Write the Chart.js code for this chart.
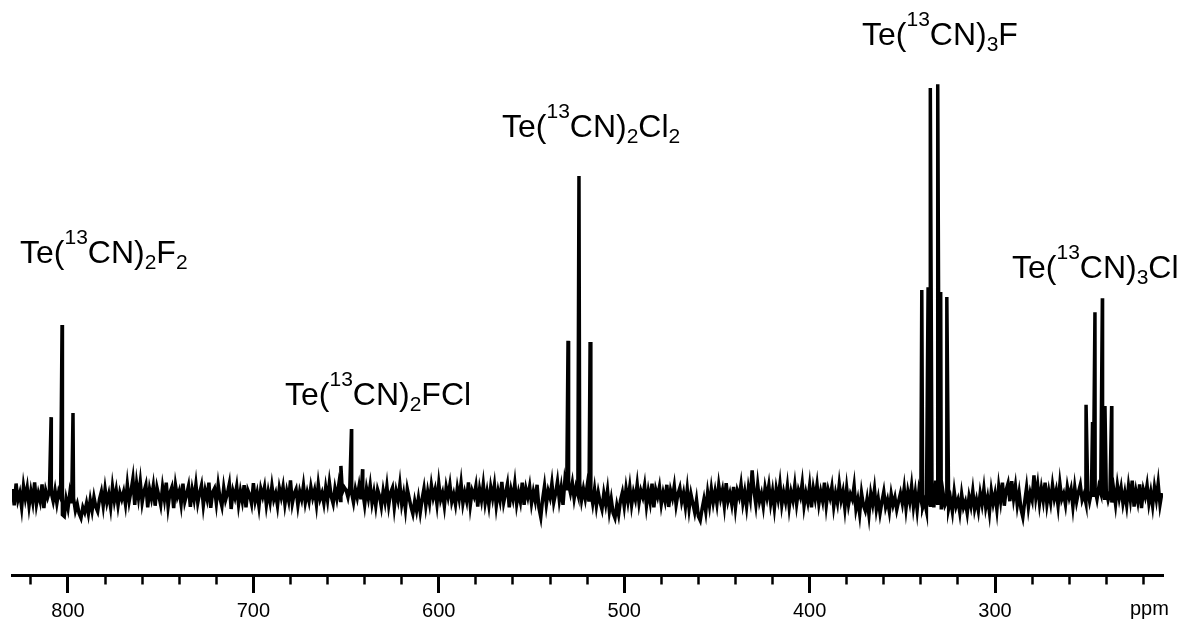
<!DOCTYPE html>
<html>
<head>
<meta charset="utf-8">
<script src="https://cdn.jsdelivr.net/npm/chart.js@4.4.1/dist/chart.umd.min.js"></script>
<style>
  html, body { margin: 0; padding: 0; background: #fff; }
  #wrap { width: 1182px; height: 619px; }
</style>
</head>
<body>
<div id="wrap"><canvas id="nmr"></canvas></div>
<script>
// chemical shift axis runs from high ppm (left) to low ppm (right)
const shiftStart = 830   // ppm of the first baseline sample
const shiftStep = 1      // ppm between baseline samples

// baseline (noise), one value per ppm, 830 -> 210
const baseline = [
  1.5,-2.5,2.8,-1.2,0.5,-3.0,2.2,-0.8,1.8,-2.6,0.9,-1.7,3.1,-2.2,0.4,-1.5,2.6,-3.2,1.1,-0.6,
  1.0,0.5,-1.5,1.2,-2.0,0.8,-0.5,-4.8,-5.2,-1.0,-3.2,0.5,-2.0,-0.8,-3.8,-2.2,-4.5,-5.6,-3.0,-4.2,
  -2.0,-4.5,-1.2,-3.8,-0.5,-2.9,-4.0,-1.0,0.8,-2.6,1.5,-1.8,0.2,-3.0,2.0,-1.4,1.2,-2.5,0.6,-1.0,
  0.8,-2.2,2.6,-1.5,1.0,4.0,-2.4,2.8,-0.6,3.2,-1.8,0.9,2.5,-3.0,1.4,-0.8,2.2,-2.6,1.8,-0.2,
  -2.4,2.0,-1.0,3.0,-2.8,0.6,1.9,-3.2,2.4,-0.4,1.0,-2.2,2.8,-1.6,0.2,2.2,-2.9,1.3,-1.1,2.6,
  -1.9,0.5,2.4,-2.5,1.1,-0.9,3.0,-3.1,0.7,1.6,-2.0,2.5,-0.8,-2.7,1.8,-1.2,0.4,2.7,-3.4,1.0,
  -0.6,2.1,-2.3,0.9,-1.5,2.4,-3.0,1.2,0.0,-2.1,2.9,-1.4,0.6,-2.8,1.5,-0.3,1.9,-2.4,0.8,-1.7,
  2.2,-1.1,0.4,-2.6,1.7,-0.5,2.0,-2.2,0.9,-1.3,3.6,-2.0,0.3,1.4,-2.5,0.8,-1.0,2.3,-1.8,0.6,
  -1.5,2.0,-0.6,1.2,-2.3,2.6,-0.9,0.5,-2.0,1.8,-1.2,3.0,-0.4,-2.1,1.6,-0.8,2.4,-1.3,0.7,1.9,
  1.2,-0.5,2.0,0.5,-1.8,1.4,-0.6,2.2,-1.0,0.8,-2.4,1.6,-0.8,2.4,-1.9,0.7,-2.6,1.3,-0.2,-2.8,
  1.0,-1.6,2.1,-2.4,0.6,1.8,-3.0,0.9,-1.2,2.6,-2.2,0.3,-3.4,1.5,-0.7,-2.9,-4.6,-1.5,-3.8,-0.8,
  -4.2,-1.0,1.6,-2.6,0.8,-1.9,2.4,-0.6,1.3,-2.2,2.8,-1.1,0.5,-2.7,1.9,-0.4,2.5,-1.6,0.2,-2.3,
  1.7,-0.9,2.9,-2.0,0.6,-1.4,3.1,-2.5,1.0,-0.3,2.2,-2.8,1.4,-1.2,2.6,-1.9,0.8,-2.4,1.9,-0.7,
  2.4,-2.6,0.9,-1.3,3.2,-1.8,0.4,2.7,-3.0,1.2,-0.9,2.8,-2.2,0.6,-1.6,3.0,-2.4,1.5,-0.5,2.1,
  -2.0,0.8,-1.4,2.5,-3.1,-5.4,-1.0,2.2,-2.3,1.0,-0.6,2.9,-1.8,0.4,3.3,-1.2,1.8,-2.4,3.6,1.2,
  2.6,0.5,3.0,-0.8,1.9,0.2,2.8,-1.2,1.5,-0.9,2.2,-1.6,0.9,-2.0,1.4,-2.6,0.6,-1.8,-3.5,0.4,
  -2.2,1.1,-3.9,-1.0,-4.4,-5.6,-2.5,-4.8,-1.3,0.6,-2.7,1.6,-1.5,2.0,-2.4,0.7,-1.1,2.6,-1.9,1.0,
  -0.5,2.3,-2.6,0.9,-1.7,2.8,-3.0,1.3,-0.4,2.0,-2.2,0.6,-1.4,2.5,-2.9,1.1,-0.7,2.2,-2.4,0.3,
  1.8,-1.6,0.5,-2.8,1.4,-3.3,0.2,-2.0,-4.2,-1.2,-5.2,-6.2,-3.4,-1.0,-4.0,0.6,-2.5,1.5,-1.8,0.9,
  -2.1,2.4,-0.8,1.2,-2.6,2.9,-1.4,0.4,-2.2,2.0,-3.0,1.0,-0.5,2.6,-1.9,0.8,-2.8,1.7,-0.9,6.0,
  1.0,-2.3,2.5,-1.5,0.3,-2.7,1.8,-0.6,2.3,-2.0,0.9,-3.1,1.5,-1.0,2.7,-2.4,0.6,-1.6,2.1,-2.9,
  0.7,-1.3,2.4,-2.2,1.1,-0.4,2.9,-2.6,0.5,-1.7,2.2,-3.0,1.6,-0.9,2.5,-2.1,0.8,-1.4,3.0,-2.5,
  1.2,-0.6,2.0,-2.8,0.4,-1.9,2.6,-1.2,0.9,-3.2,1.7,-2.3,0.2,-1.0,2.3,-3.4,-1.1,-4.6,0.5,-2.5,
  -3.8,-1.0,-4.8,0.3,-2.2,1.4,-3.5,-0.9,-4.4,-1.6,0.8,-2.9,-1.2,-4.0,0.2,-2.4,-0.6,-3.6,-1.5,0.4,
  -2.0,1.6,-3.2,0.8,-1.6,2.2,-2.8,0.6,-3.6,1.2,-1.0,-3.0,-1.5,-3.8,-0.5,-2.5,2.0,-3.0,3.5,-2.0,
  -1.0,-3.5,0.5,-2.5,-1.5,-3.2,-1.0,-4.0,0.8,-2.7,-1.2,-4.2,0.2,-3.0,-1.6,-4.4,-0.4,-2.6,1.0,-3.4,
  -1.2,-3.8,0.4,-2.2,1.5,-3.0,-0.6,-4.2,1.0,-2.0,0.3,-3.5,2.0,-1.4,3.0,-2.6,1.2,2.8,-1.5,3.4,
  -0.8,2.2,-2.4,0.6,-3.4,-5.4,-1.6,1.8,-2.9,0.5,-1.2,4.8,-0.6,2.5,-2.0,1.6,-1.3,3.0,-2.2,0.9,
  -1.8,2.4,-0.9,1.1,-2.6,2.8,-1.0,0.3,-2.3,2.0,-0.5,1.4,-2.8,1.9,-1.6,0.7,2.5,-1.2,0.2,-1.9,
  1.0,-1.5,0.8,-0.5,1.2,-1.0,2.0,0.5,1.5,-0.8,1.0,-1.2,0.6,-1.8,1.3,-2.2,2.4,-0.7,1.8,-2.0,
  0.6,-2.5,2.2,-1.1,3.5,-2.8,0.9,-1.6,2.6,-3.2,1.3,-0.4,2.4,-2.0,0.7,-2.6,1.9,-1.0,2.8,-2.3,
  0.5
]

// multiplet lines [ppm, intensity]
const peaksF2   = [[809.1, 19.0], [803.2, 41.5], [797.3, 20.0]]
const peaksFCl  = [[652.8, 7.1], [647.1, 16.1], [641.1, 6.3]]
const peaksCl2  = [[530.3, 37.6], [524.4, 77.8], [518.4, 37.3]]
const peaks3F   = [[339.5, 50.0], [336.1, 50.7], [334.9, 99.3], [330.9, 100.2], [329.3, 49.5], [326.0, 48.3]]
const peaks3Cl  = [[250.9, 22.0], [247.4, 17.8], [246.1, 44.6], [242.1, 48.0], [240.7, 21.7], [237.1, 21.7]]

const compounds = ['Te(^13CN)_2F_2', 'Te(^13CN)_2FCl', 'Te(^13CN)_2Cl_2', 'Te(^13CN)_3F', 'Te(^13CN)_3Cl']

const majorTicks = [800, 700, 600, 500, 400, 300]
const minorTicks = [820, 780, 760, 740, 720, 680, 660, 640, 620, 580, 560, 540, 520,
                    480, 460, 440, 420, 380, 360, 340, 320, 280, 260, 240, 220]
const axisUnit = 'ppm'

// layout: where each formula label sits (left x, text baseline y) in px
const labelPos = [[20, 263], [285, 405], [502, 137], [862, 45], [1012, 278]]

const points = baseline.map((v, i) => ({ x: shiftStart - i * shiftStep, y: v }))
;[peaksF2, peaksFCl, peaksCl2, peaks3F, peaks3Cl].forEach(list => {
  list.forEach(p => points.push({ x: p[0], y: p[1] }))
})
points.sort((a, b) => b.x - a.x)

const FONT = '"Liberation Sans", Arial, sans-serif'

const formulaLabels = {
  id: 'formulaLabels',
  afterDraw(chart) {
    const c = chart.ctx
    c.save()
    c.fillStyle = '#000'
    c.textBaseline = 'alphabetic'
    c.textAlign = 'left'
    compounds.forEach((txt, k) => {
      let x = labelPos[k][0]
      const y = labelPos[k][1]
      txt.split(/([\^_]\d+)/).filter(Boolean).forEach(part => {
        let size = 32, dy = 0, s = part
        if (part[0] === '^') { size = 21; dy = -19; s = part.slice(1) }
        else if (part[0] === '_') { size = 21; dy = 5.5; s = part.slice(1) }
        c.font = size + 'px ' + FONT
        c.fillText(s, x, y + dy)
        x += c.measureText(s).width
      })
    })
    c.font = '20px ' + FONT
    c.fillText(axisUnit, 1130, 615)
    c.restore()
  }
}

const chart = new Chart(document.getElementById('nmr'), {
  type: 'line',
  data: {
    datasets: [{
      data: points,
      borderColor: '#000',
      borderWidth: 3.5,
      pointRadius: 0,
      tension: 0,
      fill: false
    }]
  },
  options: {
    responsive: true,
    maintainAspectRatio: false,
    animation: false,
    parsing: false,
    normalized: true,
    layout: { padding: { left: 12, right: 19, top: 10, bottom: 0 } },
    plugins: {
      legend: { display: false },
      tooltip: { enabled: false }
    },
    scales: {
      x: {
        type: 'linear',
        position: 'bottom',
        reverse: true,
        min: 209.4,
        max: 830.2,
        afterBuildTicks: s => { s.ticks = majorTicks.map(v => ({ value: v })) },
        afterFit: s => { s.height = 44 },
        border: { display: true, color: '#000', width: 3 },
        grid: { drawOnChartArea: false, drawTicks: true, tickLength: 18, tickWidth: 3, tickColor: '#000' },
        ticks: {
          color: '#000',
          font: { family: FONT, size: 20 },
          padding: 6,
          maxRotation: 0,
          autoSkip: false
        }
      },
      xm: {
        axis: 'x',
        type: 'linear',
        position: { y: -19.5 },
        reverse: true,
        min: 209.4,
        max: 830.2,
        afterBuildTicks: s => { s.ticks = minorTicks.map(v => ({ value: v })) },
        border: { display: false },
        grid: { drawOnChartArea: false, drawTicks: true, tickLength: 9.5, tickWidth: 2.5, tickColor: '#000' },
        ticks: { display: false }
      },
      y: {
        display: false,
        min: -19.5,
        max: 118.3
      }
    }
  },
  plugins: [formulaLabels]
})
</script>
</body>
</html>
